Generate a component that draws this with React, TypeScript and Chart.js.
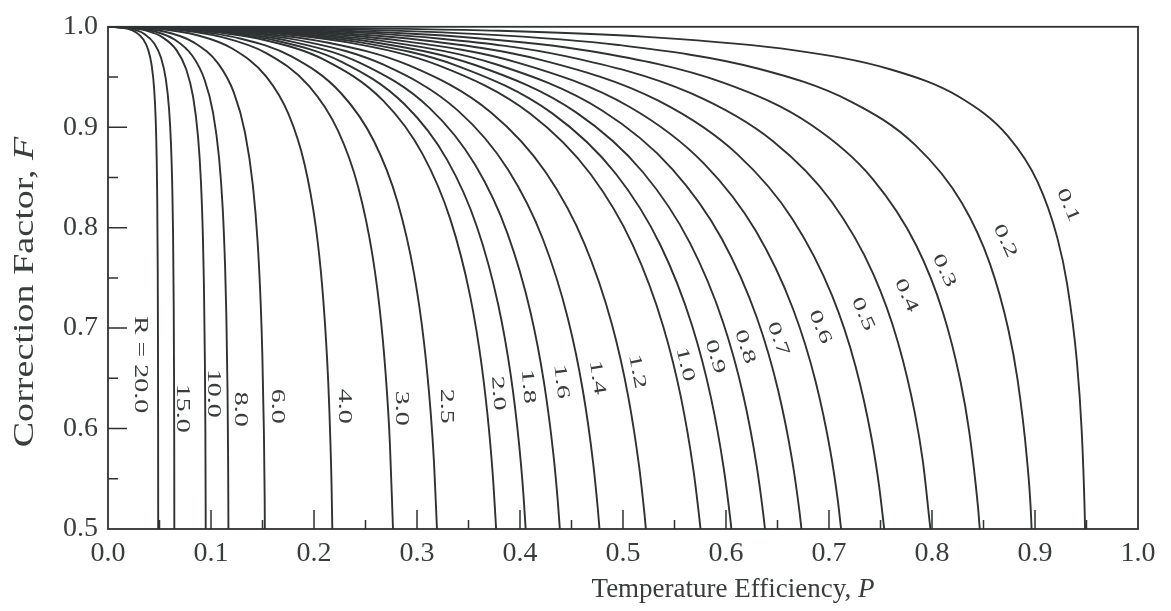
import React, { useEffect, useRef } from "react";
import { Chart, registerables } from "chart.js";

Chart.register(...registerables);

// ---- curve data: temperature efficiency P (x) vs correction factor F (y) ----
const P_20 = [0, 0.00975, 0.0195, 0.02681, 0.03413, 0.039, 0.04241, 0.04485, 0.04631, 0.04729, 0.04778, 0.04826, 0.04851, 0.04865, 0.0487, 0.04873];
const F_20 = [1, 0.9996, 0.9979, 0.9947, 0.9877, 0.9772, 0.9615, 0.9376, 0.9075, 0.8672, 0.8304, 0.7616, 0.6917, 0.6069, 0.5514, 0.5];
const P_15 = [0, 0.01289, 0.02578, 0.03545, 0.04511, 0.05156, 0.05607, 0.05929, 0.06122, 0.06251, 0.06316, 0.0638, 0.06412, 0.06432, 0.06439];
const F_15 = [1, 0.9995, 0.9971, 0.9927, 0.9832, 0.969, 0.9484, 0.9181, 0.8816, 0.8351, 0.7946, 0.7224, 0.6523, 0.5699, 0.5];
const P_10 = [0, 0.019, 0.038, 0.05226, 0.06651, 0.07601, 0.08266, 0.08741, 0.09026, 0.09216, 0.09311, 0.09406, 0.09454, 0.09482, 0.09486];
const F_10 = [1, 0.9992, 0.996, 0.99, 0.9768, 0.9575, 0.9301, 0.8907, 0.8453, 0.7901, 0.7444, 0.6674, 0.597, 0.518, 0.5];
const P_8 = [0, 0.02344, 0.04689, 0.06447, 0.08205, 0.09377, 0.10198, 0.10784, 0.11136, 0.1137, 0.11487, 0.11605, 0.11663, 0.11691];
const F_8 = [1, 0.999, 0.9949, 0.9874, 0.9709, 0.9473, 0.9146, 0.8694, 0.8194, 0.7608, 0.7137, 0.6371, 0.5677, 0.5];
const P_6 = [0, 0.03057, 0.06115, 0.08408, 0.10701, 0.1223, 0.133, 0.14064, 0.14523, 0.14829, 0.14982, 0.15134, 0.15211, 0.15227];
const F_6 = [1, 0.9988, 0.9936, 0.984, 0.9633, 0.9342, 0.8948, 0.8423, 0.7862, 0.7233, 0.6746, 0.5972, 0.5302, 0.5];
const P_4 = [0, 0.04384, 0.08769, 0.12057, 0.15346, 0.17538, 0.19073, 0.20169, 0.20826, 0.21265, 0.21484, 0.21703, 0.21778];
const F_4 = [1, 0.9985, 0.9913, 0.9784, 0.9507, 0.9129, 0.8637, 0.8012, 0.7379, 0.6706, 0.6205, 0.5442, 0.5];
const P_3 = [0, 0.05585, 0.1117, 0.15358, 0.19547, 0.22339, 0.24294, 0.2569, 0.26528, 0.27086, 0.27366, 0.2767];
const F_3 = [1, 0.9983, 0.9894, 0.9738, 0.9407, 0.8963, 0.8403, 0.7717, 0.7047, 0.6358, 0.5857, 0.5];
const P_25 = [0, 0.06459, 0.12919, 0.17763, 0.22608, 0.25838, 0.28098, 0.29713, 0.30682, 0.31328, 0.31651, 0.31938];
const F_25 = [1, 0.9979, 0.9881, 0.9708, 0.9341, 0.8858, 0.826, 0.7542, 0.6855, 0.6161, 0.5663, 0.5];
const P_2 = [0, 0.07639, 0.15279, 0.21008, 0.26738, 0.30557, 0.33231, 0.35141, 0.36287, 0.37051, 0.37433, 0.37681];
const F_2 = [1, 0.9975, 0.9866, 0.9671, 0.9262, 0.873, 0.8085, 0.7328, 0.6621, 0.5921, 0.5427, 0.5];
const P_18 = [0, 0.08232, 0.16464, 0.22638, 0.28812, 0.32928, 0.35809, 0.37867, 0.39102, 0.39925, 0.40336, 0.40551];
const F_18 = [1, 0.9974, 0.9859, 0.9654, 0.9226, 0.8675, 0.8012, 0.7242, 0.6531, 0.5831, 0.5339, 0.5];
const P_16 = [0, 0.08915, 0.1783, 0.24516, 0.31203, 0.3566, 0.3878, 0.41009, 0.42346, 0.43238, 0.43684, 0.43866];
const F_16 = [1, 0.9973, 0.9853, 0.9639, 0.9193, 0.8623, 0.7944, 0.7163, 0.6447, 0.5747, 0.5257, 0.5];
const P_14 = [0, 0.09708, 0.19415, 0.26696, 0.33977, 0.38831, 0.42228, 0.44655, 0.46111, 0.47082, 0.47567, 0.47718];
const F_14 = [1, 0.9972, 0.9848, 0.9625, 0.9165, 0.8579, 0.7885, 0.7094, 0.6374, 0.5674, 0.5187, 0.5];
const P_12 = [0, 0.10633, 0.21265, 0.29239, 0.37214, 0.4253, 0.46251, 0.4891, 0.50504, 0.51568, 0.52099, 0.52222];
const F_12 = [1, 0.9971, 0.9844, 0.9615, 0.9144, 0.8546, 0.7842, 0.7043, 0.632, 0.562, 0.5135, 0.5];
const P_10b = [0, 0.11716, 0.23431, 0.32218, 0.41005, 0.46863, 0.50963, 0.53892, 0.5565, 0.56821, 0.57407, 0.57524];
const F_10b = [1, 0.9971, 0.9842, 0.9611, 0.9135, 0.8532, 0.7824, 0.7022, 0.6298, 0.5598, 0.5113, 0.5];
const P_09 = [0, 0.12325, 0.24651, 0.33895, 0.43138, 0.49301, 0.53615, 0.56696, 0.58545, 0.59778, 0.60394, 0.60523];
const F_09 = [1, 0.9971, 0.9843, 0.9612, 0.9138, 0.8537, 0.783, 0.7029, 0.6305, 0.5605, 0.512, 0.5];
const P_08 = [0, 0.12984, 0.25969, 0.35707, 0.45445, 0.51938, 0.56482, 0.59728, 0.61676, 0.62974, 0.63623, 0.63786];
const F_08 = [1, 0.9971, 0.9844, 0.9617, 0.9148, 0.8552, 0.7851, 0.7054, 0.6331, 0.5631, 0.5146, 0.5];
const P_07 = [0, 0.13696, 0.27391, 0.37663, 0.47934, 0.54782, 0.59576, 0.63, 0.65054, 0.66424, 0.67108, 0.67327];
const F_07 = [1, 0.9972, 0.9848, 0.9627, 0.9169, 0.8584, 0.7893, 0.7103, 0.6384, 0.5684, 0.5196, 0.5];
const P_06 = [0, 0.1446, 0.28921, 0.39766, 0.50611, 0.57841, 0.62902, 0.66518, 0.68687, 0.70133, 0.70856, 0.71174];
const F_06 = [1, 0.9973, 0.9855, 0.9644, 0.9204, 0.864, 0.7966, 0.7188, 0.6474, 0.5774, 0.5284, 0.5];
const P_05 = [0, 0.15279, 0.30557, 0.42016, 0.53475, 0.61115, 0.66462, 0.70282, 0.72574, 0.74101, 0.74865, 0.75362];
const F_05 = [1, 0.9975, 0.9866, 0.9671, 0.9262, 0.873, 0.8085, 0.7328, 0.6621, 0.5921, 0.5427, 0.5];
const P_04 = [0, 0.16148, 0.32297, 0.44408, 0.56519, 0.64593, 0.70245, 0.74282, 0.76705, 0.7832, 0.79127, 0.79844];
const F_04 = [1, 0.9979, 0.9881, 0.9708, 0.9341, 0.8858, 0.826, 0.7542, 0.6855, 0.6161, 0.5663, 0.5];
const P_03 = [0, 0.17065, 0.34129, 0.46928, 0.59726, 0.68258, 0.74231, 0.78497, 0.81057, 0.82763, 0.83617, 0.8447, 0.8464];
const F_03 = [1, 0.998, 0.9901, 0.9756, 0.9444, 0.9024, 0.8486, 0.7818, 0.7158, 0.6471, 0.5968, 0.5215, 0.5];
const P_02 = [0, 0.1802, 0.36039, 0.49554, 0.63069, 0.72078, 0.78385, 0.8289, 0.85593, 0.87395, 0.88296, 0.89197, 0.89648, 0.89666];
const F_02 = [1, 0.9987, 0.9927, 0.9819, 0.9585, 0.9258, 0.8822, 0.8249, 0.765, 0.6994, 0.6495, 0.572, 0.5062, 0.5];
const P_01 = [0, 0.19002, 0.38005, 0.52257, 0.66509, 0.7601, 0.82661, 0.87411, 0.90262, 0.92162, 0.93112, 0.94062, 0.94537, 0.94822, 0.9486];
const F_01 = [1, 0.9992, 0.996, 0.99, 0.9768, 0.9575, 0.9301, 0.8907, 0.8453, 0.7901, 0.7444, 0.6674, 0.597, 0.518, 0.5];

const CURVE_P = [P_20, P_15, P_10, P_8, P_6, P_4, P_3, P_25, P_2, P_18, P_16, P_14, P_12, P_10b, P_09, P_08, P_07, P_06, P_05, P_04, P_03, P_02, P_01];
const CURVE_F = [F_20, F_15, F_10, F_8, F_6, F_4, F_3, F_25, F_2, F_18, F_16, F_14, F_12, F_10b, F_09, F_08, F_07, F_06, F_05, F_04, F_03, F_02, F_01];

// curve labels and their anchor points (in data units)
const LABEL_TEXT = ["R = 20.0", "15.0", "10.0", "8.0", "6.0", "4.0", "3.0", "2.5", "2.0", "1.8", "1.6", "1.4", "1.2", "1.0", "0.9", "0.8", "0.7", "0.6", "0.5", "0.4", "0.3", "0.2", "0.1"];
const LABEL_P = [0.0311, 0.0718, 0.1019, 0.1282, 0.1641, 0.2291, 0.2845, 0.3282, 0.3786, 0.4078, 0.4398, 0.4748, 0.5136, 0.5602, 0.5893, 0.6184, 0.6505, 0.6913, 0.733, 0.7748, 0.8117, 0.8709, 0.932];
const LABEL_F = [0.6637, 0.6203, 0.6351, 0.6193, 0.6223, 0.6223, 0.6203, 0.6223, 0.6351, 0.642, 0.6469, 0.6509, 0.6568, 0.6637, 0.6716, 0.6815, 0.6893, 0.7012, 0.714, 0.7327, 0.7574, 0.787, 0.8225];
const LABEL_ROT = [90, 90, 90, 90, 90, 90, 90, 90, 86, 85, 83, 81, 79, 76, 74, 72, 70, 68, 66, 65, 65, 65, 67];

const X_TICKS = [0, 0.1, 0.2, 0.3, 0.4, 0.5, 0.6, 0.7, 0.8, 0.9, 1.0];
const Y_TICKS = [0.5, 0.6, 0.7, 0.8, 0.9, 1.0];
const X_TITLE = "Temperature Efficiency, ";
const X_TITLE_VAR = "P";
const Y_TITLE = "Correction Factor, ";
const Y_TITLE_VAR = "F";

const INK = "#2e3232";
const TEXT = "#3a3d3d";
const SERIF = "'Liberation Serif', 'Times New Roman', serif";

function drawTwoPart(ctx: CanvasRenderingContext2D, a: string, b: string, size: number) {
  ctx.font = `${size}px ${SERIF}`;
  const wa = ctx.measureText(a).width;
  ctx.font = `italic ${size}px ${SERIF}`;
  const wb = ctx.measureText(b).width;
  const start = -(wa + wb) / 2;
  ctx.textAlign = "left";
  ctx.textBaseline = "middle";
  ctx.font = `${size}px ${SERIF}`;
  ctx.fillText(a, start, 0);
  ctx.font = `italic ${size}px ${SERIF}`;
  ctx.fillText(b, start + wa, 0);
}

const decorPlugin = {
  id: "decor",
  afterDatasetsDraw(chart: any) {
    const { ctx, chartArea: a, scales } = chart;
    const xs = scales.x;
    const ys = scales.y;
    ctx.save();
    ctx.strokeStyle = INK;
    ctx.lineWidth = 1.8;
    ctx.strokeRect(a.left, a.top, a.right - a.left, a.bottom - a.top);
    ctx.lineWidth = 1.5;
    ctx.beginPath();
    for (let i = 1; i < 20; i++) {
      const px = xs.getPixelForValue(i / 20);
      const len = i % 2 === 0 ? 19 : 9;
      ctx.moveTo(px, a.bottom);
      ctx.lineTo(px, a.bottom - len);
    }
    for (let i = 1; i < 10; i++) {
      const py = ys.getPixelForValue(0.5 + i / 20);
      const len = i % 2 === 0 ? 19 : 10;
      ctx.moveTo(a.left, py);
      ctx.lineTo(a.left + len, py);
    }
    ctx.stroke();

    // curve labels
    ctx.fillStyle = TEXT;
    ctx.textAlign = "center";
    ctx.textBaseline = "middle";
    ctx.font = `18px ${SERIF}`;
    for (let i = 0; i < LABEL_TEXT.length; i++) {
      const px = xs.getPixelForValue(LABEL_P[i]);
      const py = ys.getPixelForValue(LABEL_F[i]);
      ctx.save();
      ctx.translate(px, py);
      ctx.rotate((LABEL_ROT[i] * Math.PI) / 180);
      ctx.scale(1.55, 1);
      ctx.fillText(LABEL_TEXT[i], 0, 0);
      ctx.restore();
    }

    // axis titles
    ctx.save();
    ctx.translate(733, 590);
    drawTwoPart(ctx, X_TITLE, X_TITLE_VAR, 27);
    ctx.restore();

    ctx.save();
    ctx.translate(25, 292);
    ctx.rotate(-Math.PI / 2);
    ctx.scale(1.27, 1);
    drawTwoPart(ctx, Y_TITLE, Y_TITLE_VAR, 30);
    ctx.restore();

    ctx.restore();
  },
};

export default function App() {
  const ref = useRef<HTMLCanvasElement | null>(null);

  useEffect(() => {
    document.body.style.margin = "0";
    const canvas = ref.current;
    if (!canvas) return;
    const datasets = CURVE_P.map((ps, k) => ({
      label: LABEL_TEXT[k],
      data: ps.map((p, i) => ({ x: p, y: CURVE_F[k][i] })),
      borderColor: INK,
      borderWidth: 1.9,
      pointRadius: 0,
      fill: false,
      cubicInterpolationMode: "monotone" as const,
    }));
    const chart = new Chart(canvas, {
      type: "line",
      data: { datasets },
      options: {
        animation: false,
        responsive: false,
        maintainAspectRatio: false,
        layout: { padding: { top: 22, right: 33, left: 0, bottom: 0 } },
        plugins: { legend: { display: false }, tooltip: { enabled: false } },
        scales: {
          x: {
            type: "linear",
            min: 0,
            max: 1,
            afterFit: (s: any) => {
              s.height = 82;
            },
            afterBuildTicks: (s: any) => {
              s.ticks = X_TICKS.map((v) => ({ value: v }));
            },
            grid: { display: false, drawTicks: false },
            border: { display: false },
            ticks: {
              padding: 8,
              color: TEXT,
              font: { family: SERIF, size: 28 },
              maxRotation: 0,
              callback: (v: any) => Number(v).toFixed(1),
            },
          },
          y: {
            type: "linear",
            min: 0.5,
            max: 1,
            afterFit: (s: any) => {
              s.width = 108;
            },
            afterBuildTicks: (s: any) => {
              s.ticks = Y_TICKS.map((v) => ({ value: v }));
            },
            grid: { display: false, drawTicks: false },
            border: { display: false },
            ticks: {
              padding: 10,
              color: TEXT,
              font: { family: SERIF, size: 28 },
              callback: (v: any) => Number(v).toFixed(1),
            },
          },
        },
      },
      plugins: [decorPlugin],
    });
    return () => chart.destroy();
  }, []);

  return (
    <div style={{ position: "fixed", left: 0, top: 0, width: 1171, height: 611, background: "#fff" }}>
      <canvas ref={ref} width={1171} height={611} style={{ width: 1171, height: 611, display: "block" }} />
    </div>
  );
}
